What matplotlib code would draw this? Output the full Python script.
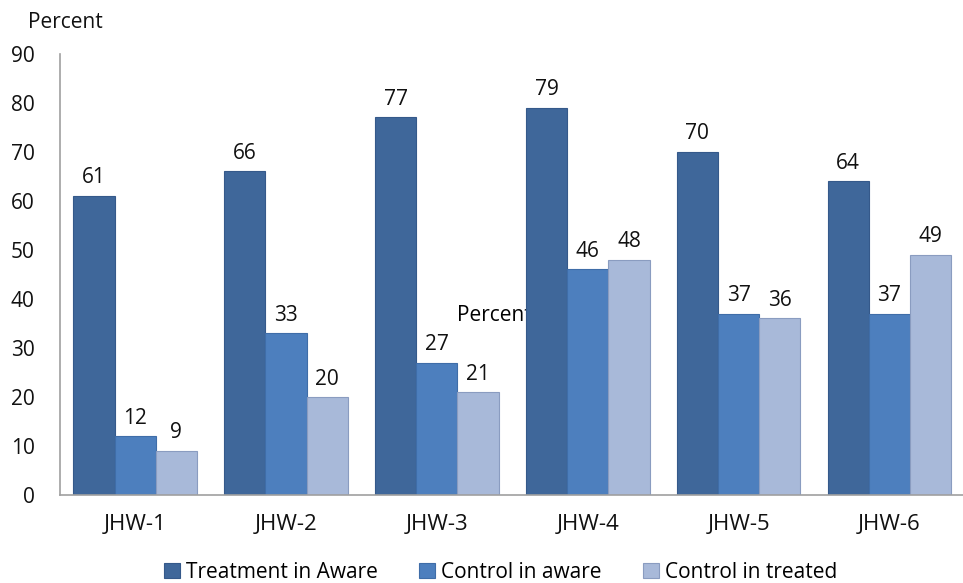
import matplotlib.pyplot as plt
import numpy as np

plt.rcParams['font.family'] = ['Open Sans', 'DejaVu Sans']

groups = ['JHW-1', 'JHW-2', 'JHW-3', 'JHW-4', 'JHW-5', 'JHW-6']
treat_aware = [61, 66, 77, 79, 70, 64]
ctrl_aware = [12, 33, 27, 46, 37, 37]
ctrl_treated = [9, 20, 21, 48, 36, 49]
series_names = ['Treatment in Aware', 'Control in aware', 'Control in treated']
yticks = list(range(0, 100, 10))

colors = ['#3F679A', '#4D7FBE', '#A8B9D9']
edges = ['#35598A', '#3F6DA8', '#8A9CC0']
fs = 15

fig = plt.figure(figsize=(9.63, 5.83), dpi=100)
ax = fig.add_axes([0.062, 0.151, 0.94, 0.757])  # llx, lly, w, h

x = np.arange(len(groups))
w = 0.273
for i, vals in enumerate((treat_aware, ctrl_aware, ctrl_treated)):
    bars = ax.bar(x + (i - 1) * w, vals, w, color=colors[i], edgecolor=edges[i],
                  linewidth=0.8, label=series_names[i], zorder=2)
    for b, v in zip(bars, vals):
        ax.text(b.get_x() + b.get_width() / 2, v + 1.5, str(v), ha='center',
                va='bottom', fontsize=fs, color='#111111', zorder=3)

# leftover label in the middle of the original chart, hidden partly by a bar
ax.text(2.38, 36.6, 'Percent', ha='center', va='center', fontsize=fs, zorder=1)

ax.set_xlim(-0.5, 5.5)
ax.set_ylim(0, 90)
ax.set_yticks(yticks)
ax.set_xticks(x)
ax.set_xticklabels(groups)
ax.tick_params(axis='both', length=0, labelsize=fs, colors='#111111')
ax.tick_params(axis='x', pad=14, labelsize=16)
ax.tick_params(axis='y', pad=18)

for s in ('top', 'right'):
    ax.spines[s].set_visible(False)
for s in ('left', 'bottom'):
    ax.spines[s].set_color('#A0A0A0')
    ax.spines[s].set_linewidth(1.2)

fig.text(0.029, 0.962, 'Percent', fontsize=fs, ha='left', va='center', color='#111111')

fig.legend(loc='center', bbox_to_anchor=(0.52, 0.018), ncol=3, frameon=False,
           fontsize=fs, handlelength=0.75, handleheight=0.75, handletextpad=0.3,
           columnspacing=2.0, borderpad=0)

fig.savefig('out.png', dpi=100)
